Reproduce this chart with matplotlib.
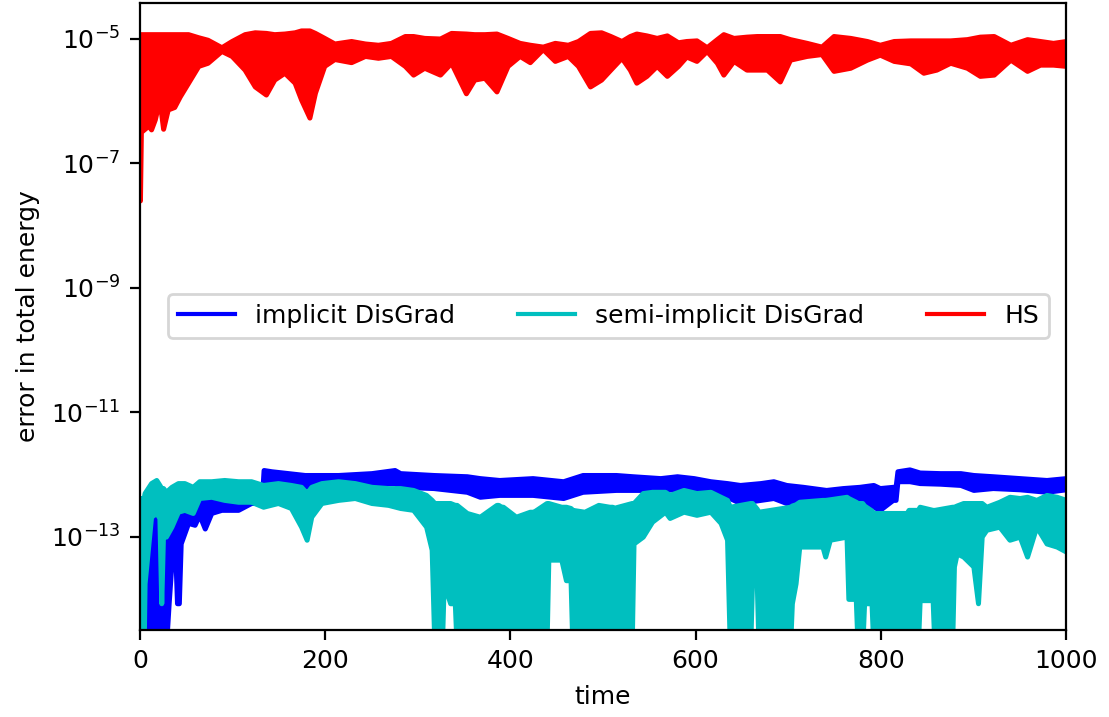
import numpy as np
import matplotlib
matplotlib.use('Agg')
import matplotlib.pyplot as plt
from matplotlib.lines import Line2D
from matplotlib.ticker import NullLocator

# Огибающие полос (log10 ошибки)
# HS
red_t = [0, 1, 9, 12, 16, 21, 25, 30, 37, 43, 52, 63, 73, 88, 99, 113, 124, 136, 145, 156,
         167, 174, 183, 189, 199, 210, 228, 243, 257, 271, 286, 295, 307, 324, 336, 352, 361,
         372, 385, 397, 410, 421, 435, 448, 462, 473, 486, 498, 508, 520, 529, 536, 547, 558,
         569, 581, 590, 601, 612, 623, 630, 641, 655, 666, 677, 691, 702, 720, 736, 749, 767,
         785, 799, 814, 832, 846, 860, 875, 893, 907, 922, 940, 958, 972, 986, 1000]
red_lo = [-7.6, -6.5, -6.4, -6.46, -6.3, -5.98, -6.45, -6.14, -6.1, -5.93, -5.71, -5.44, -5.39,
          -5.2, -5.28, -5.5, -5.77, -5.9, -5.66, -5.55, -5.71, -5.98, -6.27, -5.87, -5.44, -5.33,
          -5.38, -5.28, -5.31, -5.28, -5.44, -5.58, -5.47, -5.58, -5.39, -5.88, -5.66, -5.63,
          -5.85, -5.44, -5.28, -5.38, -5.17, -5.36, -5.28, -5.44, -5.77, -5.66, -5.5, -5.31,
          -5.5, -5.71, -5.6, -5.44, -5.6, -5.44, -5.29, -5.36, -5.2, -5.39, -5.58, -5.36, -5.5,
          -5.5, -5.5, -5.69, -5.34, -5.28, -5.25, -5.52, -5.47, -5.34, -5.26, -5.36, -5.4,
          -5.55, -5.5, -5.39, -5.47, -5.6, -5.58, -5.34, -5.52, -5.42, -5.42, -5.44]
red_hi = [-4.93, -4.93, -4.93, -4.93, -4.93, -4.93, -4.93, -4.93, -4.93, -4.93, -4.93, -4.98,
          -5.02, -5.14, -5.04, -4.93, -4.9, -4.91, -4.93, -4.92, -4.9, -4.87, -4.87, -4.91,
          -4.99, -5.08, -5.04, -5.08, -5.1, -5.07, -4.96, -4.96, -4.99, -5.0, -4.91, -4.92,
          -4.93, -4.93, -4.92, -4.99, -5.07, -5.1, -5.13, -5.07, -5.1, -5.04, -4.91, -4.9,
          -4.96, -5.04, -4.96, -4.92, -4.95, -4.99, -4.95, -5.06, -5.04, -5.03, -5.14, -5.01,
          -4.93, -4.99, -4.97, -4.96, -4.96, -4.96, -5.01, -5.07, -5.13, -4.96, -4.99, -5.04,
          -5.1, -5.04, -5.03, -5.03, -5.03, -5.03, -5.01, -4.97, -4.96, -5.1, -5.01, -5.04,
          -5.07, -5.04]

# implicit DisGrad
blue_t = [0, 9, 19, 28, 31, 35, 38, 40, 42, 44, 52, 59, 64, 70, 77, 88, 106, 120, 132, 133.5,
          142, 160, 178, 214, 250, 275, 281, 317, 353, 367, 388, 424, 457, 478, 514, 532, 562,
          580, 598, 616, 634, 648, 670, 684, 698, 716, 741, 759, 777, 792, 799, 813, 816, 818,
          831, 842, 864, 886, 900, 921, 950, 979, 1000]
blue_hi = [-12.38, -12.41, -12.52, -12.52, -12.54, -12.54, -12.54, -12.54, -12.54, -12.54,
           -12.49, -12.49, -12.41, -12.38, -12.38, -12.36, -12.38, -12.30, -12.30, -11.93,
           -11.95, -11.98, -12.01, -12.01, -11.98, -11.93, -11.98, -12.01, -12.03, -12.06,
           -12.09, -12.06, -12.11, -12.01, -12.01, -12.03, -12.06, -12.03, -12.06, -12.11,
           -12.14, -12.17, -12.14, -12.11, -12.17, -12.20, -12.25, -12.22, -12.20, -12.17,
           -12.22, -12.20, -12.20, -11.95, -11.92, -11.97, -11.98, -11.98, -12.01, -12.03,
           -12.06, -12.09, -12.06]
blue_lo = [-14.8, -14.8, -14.8, -14.8, -14.07, -13.21, -13.21, -14.07, -14.07, -13.11, -12.78,
           -12.81, -12.65, -12.87, -12.62, -12.57, -12.57, -12.46, -12.46, -12.17, -12.14,
           -12.17, -12.20, -12.14, -12.14, -12.14, -12.20, -12.22, -12.28, -12.36, -12.33,
           -12.33, -12.38, -12.28, -12.25, -12.25, -12.25, -12.24, -12.28, -12.30, -12.36,
           -12.46, -12.41, -12.38, -12.46, -12.41, -12.44, -12.49, -12.49, -12.52, -12.57,
           -12.41, -12.41, -12.11, -12.11, -12.14, -12.15, -12.17, -12.25, -12.22, -12.24,
           -12.28, -12.24]

# semi-implicit DisGrad
cyan_t = [0, 4, 5, 12, 17.6, 21, 23, 25, 28, 34, 41, 48, 57, 64, 77, 91, 106, 120, 133, 149,
          163, 174, 180, 185, 196, 214, 232, 250, 268, 281, 295, 309, 315, 318, 326, 328, 335,
          340, 342, 353, 367, 385, 387, 390, 392, 406, 421, 423, 425, 439, 441, 455, 460, 465,
          467, 480, 495, 507, 508, 510, 511, 531, 533, 543, 553, 567, 572, 587, 601, 616, 627,
          634, 637, 659, 661, 666, 668, 702, 704, 708, 712, 737, 740, 745, 763, 765, 773, 775,
          780, 782, 790, 792, 828, 830, 833, 840, 842, 856, 858, 877, 879, 882, 889, 900, 905,
          909, 914, 928, 939, 950, 958, 968, 979, 990, 1000]
cyan_hi = [-12.38, -12.38, -12.30, -12.14, -12.09, -12.17, -12.22, -12.22, -12.28, -12.20,
           -12.14, -12.14, -12.20, -12.11, -12.11, -12.09, -12.11, -12.11, -12.17, -12.14,
           -12.17, -12.20, -12.30, -12.20, -12.14, -12.11, -12.14, -12.20, -12.22, -12.22,
           -12.25, -12.33, -12.41, -12.46, -12.46, -12.46, -12.46, -12.49, -12.49, -12.62,
           -12.68, -12.49, -12.49, -12.52, -12.52, -12.68, -12.60, -12.60, -12.60, -12.46,
           -12.46, -12.52, -12.52, -12.54, -12.57, -12.60, -12.49, -12.52, -12.52, -12.52,
           -12.54, -12.46, -12.46, -12.30, -12.28, -12.28, -12.33, -12.25, -12.30, -12.28,
           -12.36, -12.41, -12.52, -12.46, -12.46, -12.55, -12.60, -12.52, -12.50, -12.48,
           -12.44, -12.41, -12.41, -12.40, -12.36, -12.38, -12.44, -12.46, -12.46, -12.50,
           -12.58, -12.62, -12.62, -12.57, -12.57, -12.57, -12.52, -12.57, -12.57, -12.52,
           -12.52, -12.50, -12.46, -12.46, -12.46, -12.46, -12.52, -12.44, -12.36, -12.38,
           -12.36, -12.41, -12.33, -12.36, -12.41]
cyan_lo = [-14.8, -14.8, -13.75, -12.68, -12.62, -12.70, -14.07, -12.90, -13.00, -12.84,
           -12.60, -12.57, -12.62, -12.38, -12.36, -12.41, -12.44, -12.44, -12.52, -12.46,
           -12.54, -12.84, -13.05, -12.68, -12.46, -12.41, -12.38, -12.46, -12.49, -12.54,
           -12.57, -12.84, -13.21, -14.8, -14.8, -13.75, -14.07, -14.07, -14.8, -14.8, -14.8,
           -14.8, -14.07, -14.07, -14.8, -14.8, -14.8, -14.07, -14.8, -14.8, -13.37, -13.37,
           -13.70, -13.70, -14.8, -14.8, -14.8, -14.8, -14.07, -14.07, -14.8, -14.8, -13.11,
           -13.00, -12.76, -12.60, -12.70, -12.60, -12.65, -12.60, -12.78, -13.05, -14.8,
           -14.8, -13.70, -13.70, -14.8, -14.8, -14.07, -13.75, -13.16, -13.16, -13.32,
           -13.05, -13.00, -14.0, -14.0, -14.8, -14.8, -14.07, -14.07, -14.8, -14.8, -14.07,
           -14.8, -14.8, -14.02, -14.02, -14.8, -14.8, -13.48, -13.27, -13.32, -13.48, -14.07,
           -13.0, -12.89, -12.84, -13.05, -13.00, -13.32, -12.84, -13.11, -13.16, -13.24]

plt.rcParams['font.size'] = 9
fig = plt.figure(figsize=(5.545, 3.585), dpi=200)
ax = fig.add_axes([0.1262, 0.1213, 0.835, 0.8745])

series = [
    (blue_t, blue_lo, blue_hi, 'b', 'implicit DisGrad'),
    (cyan_t, cyan_lo, cyan_hi, 'c', 'semi-implicit DisGrad'),
    (red_t, red_lo, red_hi, 'r', 'HS'),
]
handles = []
for t, lo, hi, col, lab in series:
    # полоса колебаний: между нижней и верхней огибающей
    ax.fill_between(t, 10.0 ** np.array(lo), 10.0 ** np.array(hi),
                    facecolor=col, edgecolor=col, linewidth=1.8, joinstyle='round')
    handles.append(Line2D([], [], color=col, linewidth=1.5, label=lab))

ax.set_yscale('log')
ax.set_xlim(0, 1000)
ax.set_ylim(10 ** -14.5, 10 ** -4.43)
ax.set_yticks([1e-13, 1e-11, 1e-9, 1e-7, 1e-5])
ax.yaxis.set_minor_locator(NullLocator())
ax.set_xlabel('time')
ax.set_ylabel('error in total energy')
ax.legend(handles=handles, ncol=3, loc='center', bbox_to_anchor=(0.506, 0.501),
          handlelength=2.3, columnspacing=2.5)

plt.savefig('out.png', dpi=200)
